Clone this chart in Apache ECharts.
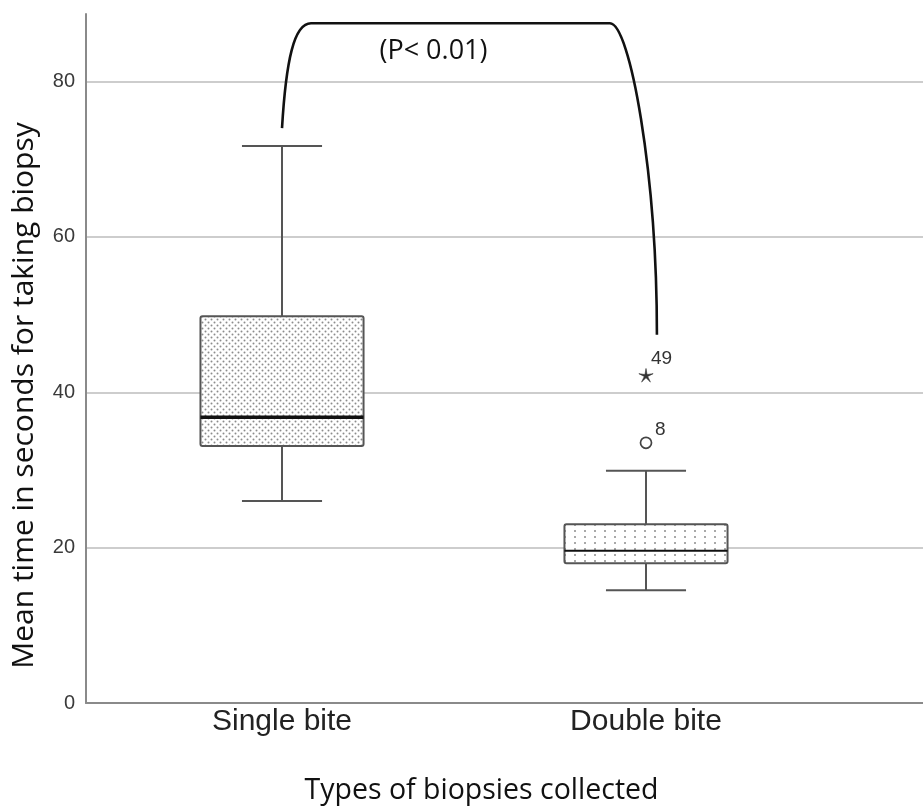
<!DOCTYPE html>
<html>
<head>
<meta charset="utf-8">
<script src="https://cdn.jsdelivr.net/npm/echarts@6/dist/echarts.min.js"></script>
<style>
  html, body { margin: 0; padding: 0; background: #fff; }
  #chart { width: 923px; height: 807px; }
</style>
</head>
<body>
<div id="chart"></div>
<script>
// Biopsy timing: box-and-whisker summary per biopsy type
const categories = ['Single bite', 'Double bite'];
// [min whisker, Q1, median, Q3, max whisker] in seconds
const boxStats = [
  [26.0, 33.1, 36.8, 49.8, 71.7],
  [14.5, 18.0, 19.6, 23.0, 29.9]
];
// outliers: [category index, value, case label, kind]
const outlierIdx = [1, 1];
const outlierVals = [33.5, 42.1];
const outlierLabels = ['8', '49'];
const outlierKinds = ['circle', 'extreme'];
// significance bracket: start (category, value), top value, end (category, value)
const bracketStart = [0, 74.0];
const bracketTop = 87.5;
const bracketEnd = [1.03, 47.4];
const bracketText = '(P< 0.01)';
const yTicks = [0, 20, 40, 60, 80];

function dotPattern(w, h, dots, r, color) {
  const c = document.createElement('canvas');
  c.width = w; c.height = h;
  const g = c.getContext('2d');
  g.fillStyle = '#ffffff';
  g.fillRect(0, 0, w, h);
  g.fillStyle = color;
  dots.forEach(function (d) {
    g.beginPath();
    g.arc(d[0], d[1], r, 0, Math.PI * 2);
    g.fill();
  });
  return { image: c, repeat: 'repeat' };
}
const fills = [
  dotPattern(6, 6, [[1.5, 1.5], [4.5, 4.5]], 1.0, '#8c8c8c'),
  dotPattern(10, 6, [[5, 3]], 1.0, '#8c8c8c')
];
const medianWidths = [3.5, 2.2];

const boxData = boxStats.map(function (s, i) { return [i].concat(s); });
const outlierData = outlierVals.map(function (v, i) {
  return [outlierIdx[i], v, outlierLabels[i], outlierKinds[i]];
});

const chart = echarts.init(document.getElementById('chart'), null, { renderer: 'canvas' });

const lineCol = '#555555';

const option = {
  backgroundColor: '#ffffff',
  animation: false,
  grid: { left: 86, right: 0, top: 14, bottom: 104, containLabel: false, outerBoundsMode: 'none' },
  xAxis: {
    type: 'value',
    min: -0.5385,
    max: 1.761,
    name: 'Types of biopsies collected',
    nameLocation: 'middle',
    nameGap: 73,
    nameTextStyle: { fontFamily: 'Open Sans', fontSize: 28.5, color: '#111', padding: [0, 46, 0, 0] },
    axisLine: { show: true, onZero: false, lineStyle: { color: '#8a8a8a', width: 2 } },
    axisTick: { show: false },
    splitLine: { show: false },
    axisLabel: {
      customValues: [0, 1],
      formatter: function (v) { return categories[Math.round(v)]; },
      fontFamily: 'Liberation Sans',
      fontSize: 30,
      color: '#222',
      margin: 4
    }
  },
  yAxis: {
    type: 'value',
    min: 0,
    max: 88.7,
    interval: 20,
    name: 'Mean time in seconds for taking biopsy',
    nameLocation: 'middle',
    nameGap: 47,
    nameRotate: 90,
    nameTextStyle: { fontFamily: 'Open Sans', fontSize: 30, color: '#111', padding: [0, 74, 0, 0] },
    axisLine: { show: true, onZero: false, lineStyle: { color: '#8a8a8a', width: 2 } },
    axisTick: { show: false },
    axisLabel: {
      fontFamily: 'Liberation Sans',
      fontSize: 20,
      color: '#3a3a3a',
      margin: 11,
      showMaxLabel: false,
      formatter: function (v) { return yTicks.indexOf(v) >= 0 ? String(v) : ''; }
    },
    splitLine: { show: true, showMaxLine: false, lineStyle: { color: '#cdcdcd', width: 2 } }
  },
  series: [
    {
      type: 'custom',
      name: 'boxes',
      data: boxData,
      z: 5,
      renderItem: function (params, api) {
        const x = api.value(0);
        const idx = params.dataIndex;
        const band = api.size([1, 0])[0];
        const half = band * 0.224;
        const cap = band * 0.11;
        const pMin = api.coord([x, api.value(1)]);
        const pQ1 = api.coord([x, api.value(2)]);
        const pMed = api.coord([x, api.value(3)]);
        const pQ3 = api.coord([x, api.value(4)]);
        const pMax = api.coord([x, api.value(5)]);
        const cx = pMin[0];
        const ls = { stroke: lineCol, lineWidth: 2, fill: null };
        return {
          type: 'group',
          children: [
            { type: 'line', shape: { x1: cx, y1: pMax[1], x2: cx, y2: pQ3[1] }, style: ls },
            { type: 'line', shape: { x1: cx, y1: pQ1[1], x2: cx, y2: pMin[1] }, style: ls },
            { type: 'line', shape: { x1: cx - cap, y1: pMax[1], x2: cx + cap, y2: pMax[1] }, style: ls },
            { type: 'line', shape: { x1: cx - cap, y1: pMin[1], x2: cx + cap, y2: pMin[1] }, style: ls },
            {
              type: 'rect',
              shape: { x: cx - half, y: pQ3[1], width: half * 2, height: pQ1[1] - pQ3[1], r: 2 },
              style: { fill: fills[idx], stroke: lineCol, lineWidth: 2 }
            },
            {
              type: 'line',
              shape: { x1: cx - half, y1: pMed[1], x2: cx + half, y2: pMed[1] },
              style: { stroke: '#111', lineWidth: medianWidths[idx] }
            }
          ]
        };
      }
    },
    {
      type: 'custom',
      name: 'outliers',
      data: outlierData,
      z: 6,
      renderItem: function (params, api) {
        const p = api.coord([api.value(0), api.value(1)]);
        const item = outlierData[params.dataIndex];
        const kids = [];
        if (item[3] === 'circle') {
          kids.push({
            type: 'circle',
            shape: { cx: p[0], cy: p[1], r: 5.5 },
            style: { fill: '#fff', stroke: '#444', lineWidth: 1.7 }
          });
          kids.push({
            type: 'text',
            style: { text: item[2], x: p[0] + 9, y: p[1] - 4, fontFamily: 'Liberation Sans', fontSize: 19, fill: '#333', textVerticalAlign: 'bottom' }
          });
        } else {
          const pts = [];
          for (let k = 0; k < 10; k++) {
            const a = -Math.PI / 2 + k * Math.PI / 5;
            const r = k % 2 === 0 ? 7.5 : 1.8;
            pts.push([p[0] + r * Math.cos(a), p[1] + r * Math.sin(a)]);
          }
          kids.push({ type: 'polygon', shape: { points: pts }, style: { fill: '#333', stroke: '#333', lineWidth: 0.6 } });
          kids.push({
            type: 'text',
            style: { text: item[2], x: p[0] + 5, y: p[1] - 8, fontFamily: 'Liberation Sans', fontSize: 19, fill: '#333', textVerticalAlign: 'bottom' }
          });
        }
        return { type: 'group', children: kids };
      }
    },
    {
      type: 'custom',
      name: 'bracket',
      data: [[bracketStart[0], bracketStart[1], bracketTop, bracketEnd[0], bracketEnd[1]]],
      z: 7,
      renderItem: function (params, api) {
        const a = api.coord([api.value(0), api.value(1)]);
        const topY = api.coord([0, api.value(2)])[1];
        const b = api.coord([api.value(3), api.value(4)]);
        const d = [
          'M', a[0], a[1],
          'C', a[0] + 4, topY + 37, a[0] + 12, topY, a[0] + 29, topY,
          'L', b[0] - 47, topY,
          'C', b[0] - 27, topY, b[0], topY + 150, b[0], b[1]
        ].join(' ');
        return {
          type: 'group',
          children: [
            { type: 'path', shape: { pathData: d }, style: { fill: null, stroke: '#111', lineWidth: 2.6 } },
            {
              type: 'text',
              style: {
                text: bracketText,
                x: (a[0] + b[0]) / 2 - 36,
                y: topY + 28,
                align: 'center',
                verticalAlign: 'middle',
                fontFamily: 'Open Sans',
                fontSize: 27,
                fill: '#111'
              }
            }
          ]
        };
      }
    }
  ]
};

chart.setOption(option);
</script>
</body>
</html>
